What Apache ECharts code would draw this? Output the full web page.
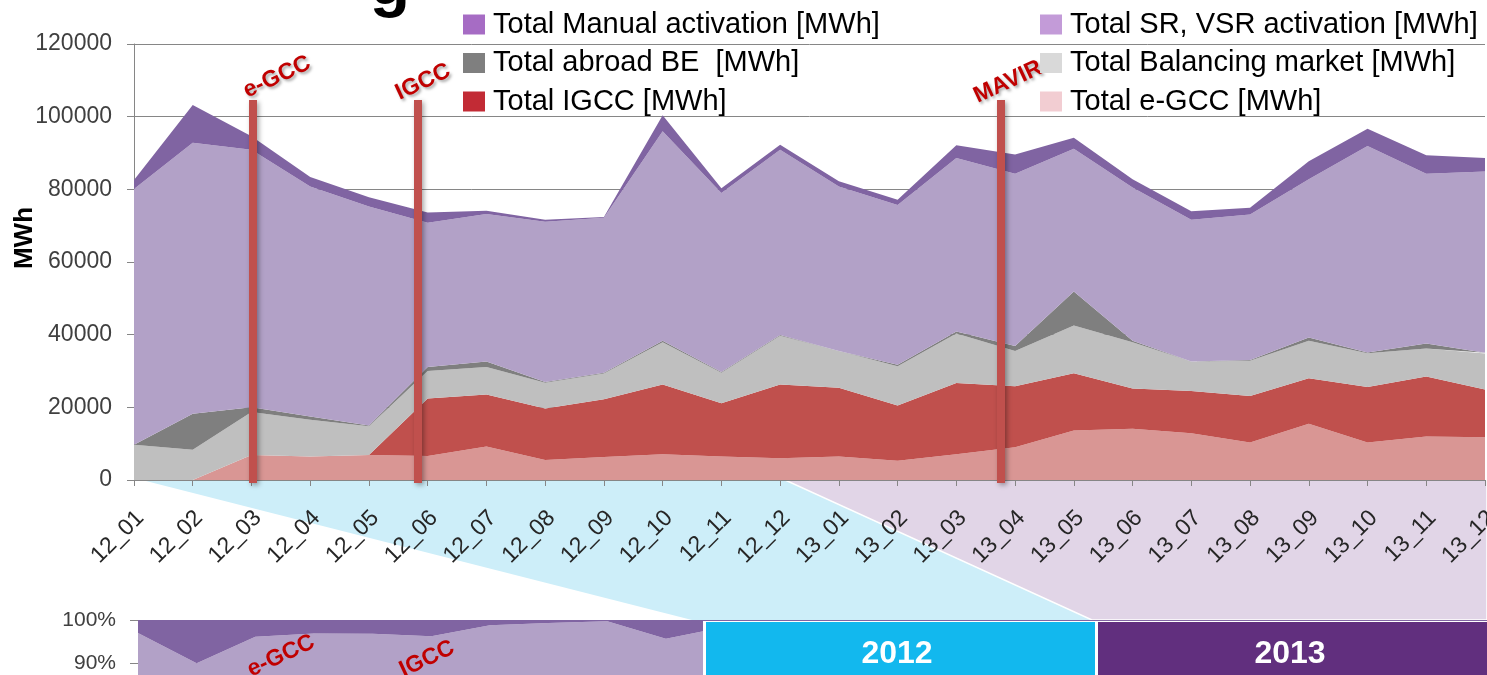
<!DOCTYPE html>
<html>
<head>
<meta charset="utf-8">
<script src="https://cdn.jsdelivr.net/npm/echarts@6/dist/echarts.min.js"></script>
<style>
html,body{margin:0;padding:0;background:#fff;}
#c{width:1487px;height:675px;}
</style>
</head>
<body>
<div id="c"></div>
<script>
// ---- data (MWh) ----
const categories = ['12_01','12_02','12_03','12_04','12_05','12_06','12_07','12_08','12_09','12_10','12_11','12_12',
                    '13_01','13_02','13_03','13_04','13_05','13_06','13_07','13_08','13_09','13_10','13_11','13_12'];
const eGCC      = [0, 0, 6900, 6500, 6900, 6600, 9200, 5500, 6300, 7100, 6500, 6000, 6500, 5300, 7100, 9000, 13600, 14100, 12900, 10300, 15500, 10300, 12000, 11800];
const igcc      = [0, 0, 0, 0, 0, 15800, 14300, 14200, 15900, 19200, 14600, 20300, 18900, 15200, 19600, 16800, 15800, 11100, 11600, 12800, 12500, 15300, 16500, 13100];
const balancing = [9700, 8300, 11800, 10100, 7900, 7600, 7600, 7100, 7100, 11600, 8400, 13400, 10100, 10800, 13600, 9700, 13100, 12700, 8100, 9700, 10300, 9300, 7700, 9900];
const abroadBE  = [0, 9900, 1300, 900, 200, 1100, 1500, 200, 200, 400, 200, 200, 0, 400, 600, 1400, 9400, 400, 0, 200, 900, 200, 1400, 200];
const srVsr     = [70400, 74600, 70900, 63300, 60300, 39700, 40600, 44100, 42700, 57700, 49300, 51000, 45300, 44000, 47700, 47400, 39300, 42200, 39000, 40100, 43600, 56800, 46700, 49900];
const manual    = [2500, 10400, 3700, 2600, 2500, 2800, 900, 500, 200, 4400, 1300, 1400, 1400, 1400, 3500, 5300, 3000, 2300, 2400, 1800, 4900, 4800, 5100, 3700];
const yTicks = [0, 20000, 40000, 60000, 80000, 100000, 120000];
const pctTicks = [90, 100];
const seriesNames = ['Total e-GCC [MWh]','Total IGCC [MWh]','Total Balancing market [MWh]','Total abroad BE  [MWh]','Total SR, VSR activation [MWh]','Total Manual activation [MWh]'];
const seriesData = [eGCC, igcc, balancing, abroadBE, srVsr, manual];
const eventLabels = ['e-GCC','IGCC','MAVIR'];
const yearLabels = ['2012','2013'];

// ---- styles ----
const areaColors   = ['#d99694','#c0504d','#bfbfbf','#7f7f7f','#b2a1c7','#8064a2'];
const legendColors = ['#f2cdd2','#c22b35','#d9d9d9','#7f7f7f','#c39bd8','#a66cc4'];
const FONT = 'Liberation Sans, Arial, sans-serif';

const totals = categories.map((_, i) => seriesData.reduce((s, arr) => s + arr[i], 0));

const series = [];
seriesData.forEach((arr, k) => {
  series.push({
    name: seriesNames[k], type: 'line', stack: 'main', data: arr,
    xAxisIndex: 0, yAxisIndex: 0,
    symbol: 'none', lineStyle: { width: 0 }, areaStyle: { color: areaColors[k], opacity: 1 },
    itemStyle: { color: areaColors[k] }, emphasis: { disabled: true }, z: 2
  });
});
seriesData.forEach((arr, k) => {
  series.push({
    name: seriesNames[k], type: 'line', stack: 'pct',
    data: arr.map((v, i) => v / totals[i] * 100),
    xAxisIndex: 1, yAxisIndex: 1, clip: false,
    symbol: 'none', lineStyle: { width: 0 }, areaStyle: { color: areaColors[k], opacity: 1 },
    itemStyle: { color: areaColors[k] }, emphasis: { disabled: true }, z: 2
  });
});

const legendText = { fontSize: 29, fontFamily: FONT, color: '#000', lineHeight: 29, padding: [0,0,0,3] };
function legendItem(k){ return { name: seriesNames[k], itemStyle: { color: legendColors[k] } }; }

const redLine = (x) => ({
  type: 'line', z: 5,
  shape: { x1: x, y1: 100, x2: x, y2: 483 },
  style: { stroke: '#c0504d', lineWidth: 8, shadowBlur: 5, shadowColor: 'rgba(0,0,0,0.35)', shadowOffsetX: 2, shadowOffsetY: 2 }
});
const redLabel = (txt, x, y, z, shadow) => ({
  type: 'text', z: z, x: x, y: y, rotation: 25 * Math.PI / 180,
  style: {
    text: txt, fill: '#c00000', font: 'bold 23px ' + FONT, align: 'center', verticalAlign: 'middle',
    textShadowColor: shadow ? 'rgba(0,0,0,0.35)' : 'transparent', textShadowBlur: shadow ? 3 : 0,
    textShadowOffsetX: shadow ? 2 : 0, textShadowOffsetY: shadow ? 2 : 0
  }
});

const chart = echarts.init(document.getElementById('c'), null, { renderer: 'canvas' });
chart.setOption({
  animation: false,
  backgroundColor: '#fff',
  grid: [
    { left: 134, right: 2, top: 44, height: 436, outerBoundsMode: 'none', containLabel: false },
    { left: 138, right: 0, top: 620, height: 43, outerBoundsMode: 'none', containLabel: false }
  ],
  legend: [
    { orient: 'vertical', left: 463, top: 10, padding: 0, itemWidth: 22, itemHeight: 20, itemGap: 9.5, icon: 'rect',
      selectedMode: false, z: 10, textStyle: legendText,
      data: [legendItem(5), legendItem(3), legendItem(1)] },
    { orient: 'vertical', left: 1040, top: 10, padding: 0, itemWidth: 22, itemHeight: 20, itemGap: 9.5, icon: 'rect',
      selectedMode: false, z: 10, textStyle: legendText,
      data: [legendItem(4), legendItem(2), legendItem(0)] }
  ],
  xAxis: [
    { type: 'category', gridIndex: 0, data: categories, boundaryGap: false,
      axisLine: { lineStyle: { color: '#868686', width: 1 } },
      axisTick: { show: true, length: 6, lineStyle: { color: '#868686' } },
      axisLabel: { rotate: 45, interval: 0, fontSize: 23, fontFamily: FONT, color: '#262626', margin: 28,
                   verticalAlign: 'top', lineHeight: 18, hideOverlap: false } },
    { type: 'category', gridIndex: 1, data: categories, boundaryGap: false, show: false }
  ],
  yAxis: [
    { type: 'value', gridIndex: 0, min: yTicks[0], max: yTicks[yTicks.length - 1], interval: yTicks[1] - yTicks[0],
      axisLine: { show: true, lineStyle: { color: '#868686' } },
      axisTick: { show: true, length: 7, lineStyle: { color: '#868686' } },
      axisLabel: { fontSize: 23, fontFamily: FONT, color: '#404040', margin: 22, formatter: v => String(v) },
      splitLine: { lineStyle: { color: '#868686', width: 1 } } },
    { type: 'value', gridIndex: 1, min: pctTicks[0], max: pctTicks[pctTicks.length - 1], interval: pctTicks[1] - pctTicks[0],
      axisLine: { show: false },
      axisTick: { show: true, length: 8, lineStyle: { color: '#868686' } },
      axisLabel: { fontSize: 21, fontFamily: FONT, color: '#404040', margin: 22, formatter: '{value}%' },
      splitLine: { lineStyle: { color: '#a6a6a6', width: 1 } } }
  ],
  series: series,
  graphic: [
    // partial slide title glyph
    { type: 'text', z: 1, x: 390, y: 19, style: { text: 'g', font: 'bold 66px ' + FONT, fill: '#000', align: 'center', verticalAlign: 'bottom' } },
    // y axis title
    { type: 'text', z: 3, x: 25, y: 238, rotation: Math.PI / 2,
      style: { text: 'MWh', font: 'bold 26px ' + FONT, fill: '#000', align: 'center', verticalAlign: 'middle' } },
    // zoom call-out shapes
    { type: 'polygon', z: -5, shape: { points: [[142,480],[785,480],[1092,620],[692,620]] }, style: { fill: '#cdeef9' } },
    { type: 'polygon', z: -5, shape: { points: [[785,480],[1487,480],[1487,620],[1092,620]] }, style: { fill: '#e1d5e7', stroke: '#fff', lineWidth: 1.5 } },
    // event lines & labels
    redLine(253), redLine(418), redLine(1001),
    redLabel(eventLabels[0], 277, 77, 5, true),
    redLabel(eventLabels[1], 423, 82, 5, true),
    redLabel(eventLabels[2], 1008, 82, 3, true),
    // bottom year boxes
    { type: 'rect', z: 6, shape: { x: 703, y: 621, width: 790, height: 60 }, style: { fill: '#fff' } },
    { type: 'rect', z: 7, shape: { x: 706, y: 622, width: 389, height: 60 }, style: { fill: '#12b8ee' } },
    { type: 'rect', z: 7, shape: { x: 1098, y: 622, width: 389, height: 60 }, style: { fill: '#612f7e' } },
    { type: 'text', z: 8, x: 897, y: 654, style: { text: yearLabels[0], font: 'bold 32px ' + FONT, fill: '#fff', align: 'center', verticalAlign: 'middle' } },
    { type: 'text', z: 8, x: 1290, y: 654, style: { text: yearLabels[1], font: 'bold 32px ' + FONT, fill: '#fff', align: 'center', verticalAlign: 'middle' } },
    // labels inside mini chart
    redLabel(eventLabels[0], 281, 656, 8, false),
    redLabel(eventLabels[1], 427, 659, 8, false)
  ]
});
</script>
</body>
</html>
